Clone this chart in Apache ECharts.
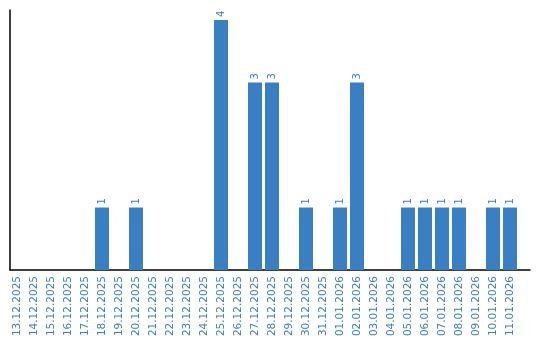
<!DOCTYPE html>
<html><head><meta charset="utf-8">
<script src="https://cdn.jsdelivr.net/npm/echarts@6/dist/echarts.min.js"></script>
<style>html,body{margin:0;padding:0;background:#fff}#c{width:540px;height:340px}</style>
</head><body><div id="c"></div>
<script>
const categories = ["13.12.2025","14.12.2025","15.12.2025","16.12.2025","17.12.2025","18.12.2025","19.12.2025","20.12.2025","21.12.2025","22.12.2025","23.12.2025","24.12.2025","25.12.2025","26.12.2025","27.12.2025","28.12.2025","29.12.2025","30.12.2025","31.12.2025","01.01.2026","02.01.2026","03.01.2026","04.01.2026","05.01.2026","06.01.2026","07.01.2026","08.01.2026","09.01.2026","10.01.2026","11.01.2026"];
const values = [null,null,null,null,null,1,null,1,null,null,null,null,4,null,3,3,null,1,null,1,3,null,null,1,1,1,1,null,1,1];
const chart = echarts.init(document.getElementById('c'), null, {renderer:'canvas'});
chart.setOption({
  animation:false,
  grid:[
    {left:8.5,width:510,top:10,bottom:70,containLabel:false},
    {left:10,right:10,top:10,bottom:70,containLabel:false}
  ],
  xAxis:[
    {type:'category',gridIndex:0,data:categories,
    axisLine:{show:false},axisTick:{show:false},
    axisLabel:{rotate:90,interval:0,color:'#3a7ec2',fontFamily:'DejaVu Sans',fontSize:10.5,margin:6}},
    {type:'value',gridIndex:1,min:0,max:1,splitLine:{show:false},axisTick:{show:false},axisLabel:{show:false},
     axisLine:{show:true,lineStyle:{color:'#000',width:1.5}}}
  ],
  yAxis:[
    {type:'value',gridIndex:0,min:0,max:4.16,splitLine:{show:false},
    axisLine:{show:false},axisTick:{show:false},axisLabel:{show:false}},
    {type:'value',gridIndex:1,min:0,max:1,splitLine:{show:false},axisTick:{show:false},axisLabel:{show:false},
     axisLine:{show:true,lineStyle:{color:'#000',width:1.5}}}
  ],
  series:[{type:'bar',xAxisIndex:0,yAxisIndex:0,data:values,barWidth:14,
    itemStyle:{color:'#3b7fc3'},
    label:{show:true,position:'top',rotate:90,align:'left',verticalAlign:'middle',distance:3,
      color:'#3a7ec2',fontFamily:'DejaVu Sans',fontSize:10}}]
});
</script></body></html>
